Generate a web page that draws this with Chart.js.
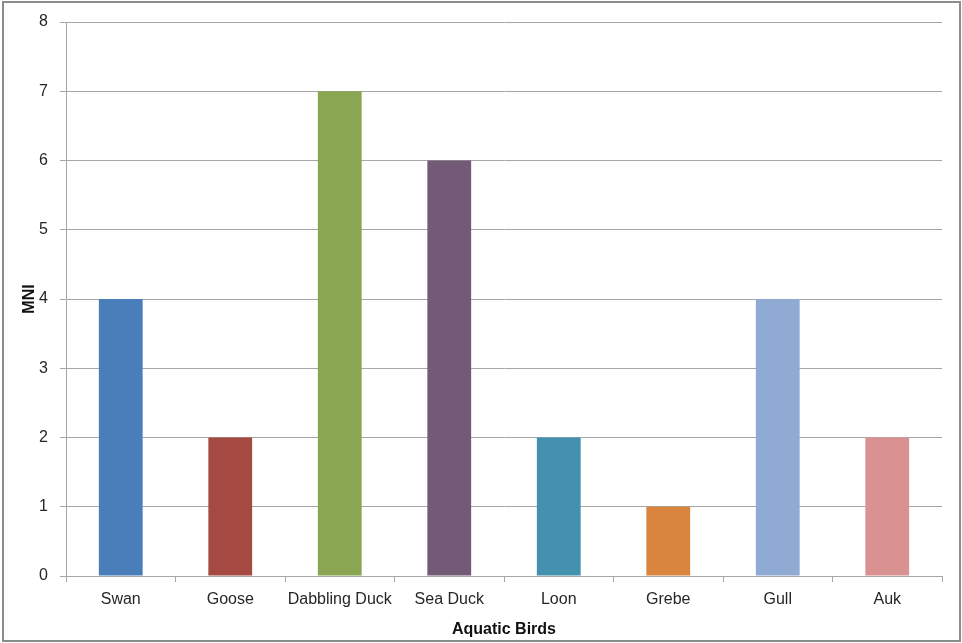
<!DOCTYPE html>
<html>
<head>
<meta charset="utf-8">
<script src="https://cdn.jsdelivr.net/npm/chart.js@4"></script>
<style>
html,body{margin:0;padding:0;background:#fff;}
#wrap{position:relative;width:962px;height:643px;}
</style>
</head>
<body>
<div id="wrap"><canvas id="c" width="962" height="643"></canvas></div>
<script>
const categories = ["Swan","Goose","Dabbling Duck","Sea Duck","Loon","Grebe","Gull","Auk"];
const mniValues = [4,2,7,6,2,1,4,2];
const barColors = ["#4a7ebb","#a54a43","#8aa652","#735b78","#4391ae","#d9853e","#8fabd3","#d99192"];
const yAxisTitle = "MNI";
const xAxisTitle = "Aquatic Birds";

const borderPlugin = {
  id: 'outerBorder',
  beforeDraw(chart) {
    const ctx = chart.ctx;
    ctx.save();
    ctx.fillStyle = '#fff';
    ctx.fillRect(0,0,chart.width,chart.height);
    ctx.strokeStyle = '#8c8c8c';
    ctx.lineWidth = 2;
    ctx.strokeRect(3,2,chart.width-5,chart.height-4);
    ctx.restore();
  }
};

new Chart(document.getElementById('c'), {
  type: 'bar',
  data: {
    labels: categories,
    datasets: [{
      data: mniValues,
      backgroundColor: barColors,
      borderWidth: 0,
      categoryPercentage: 1,
      barPercentage: 0.4
    }]
  },
  plugins: [borderPlugin],
  options: {
    responsive: false,
    animation: false,
    layout: { padding: { left: 20, right: 20, top: 22, bottom: 4 } },
    plugins: { legend: { display: false }, tooltip: { enabled: false } },
    scales: {
      x: {
        grid: { offset: true, drawOnChartArea: false, drawTicks: true, tickLength: 6, color: '#a6a6a6' },
        border: { color: '#a6a6a6', width: 1 },
        ticks: { color: '#262626', font: { family: 'Liberation Sans, Arial', size: 16 }, padding: 8, maxRotation: 0 },
        title: { display: true, text: xAxisTitle, color: '#111', font: { family: 'Liberation Sans, Arial', size: 16, weight: 'bold' }, padding: { top: 4, bottom: 0 } },
        afterFit(scale) { scale.height = 63; }
      },
      y: {
        min: 0, max: 8,
        ticks: { stepSize: 1, color: '#262626', font: { family: 'Liberation Sans, Arial', size: 16 }, padding: 12 },
        grid: { color: '#a6a6a6', tickLength: 6, drawTicks: true },
        border: { color: '#a6a6a6', width: 1 },
        title: { display: true, text: yAxisTitle, color: '#111', font: { family: 'Liberation Sans, Arial', size: 16, weight: 'bold' }, padding: { top: 0, bottom: 0 } },
        afterFit(scale) { scale.width = 46; }
      }
    }
  }
});
</script>
</body>
</html>
